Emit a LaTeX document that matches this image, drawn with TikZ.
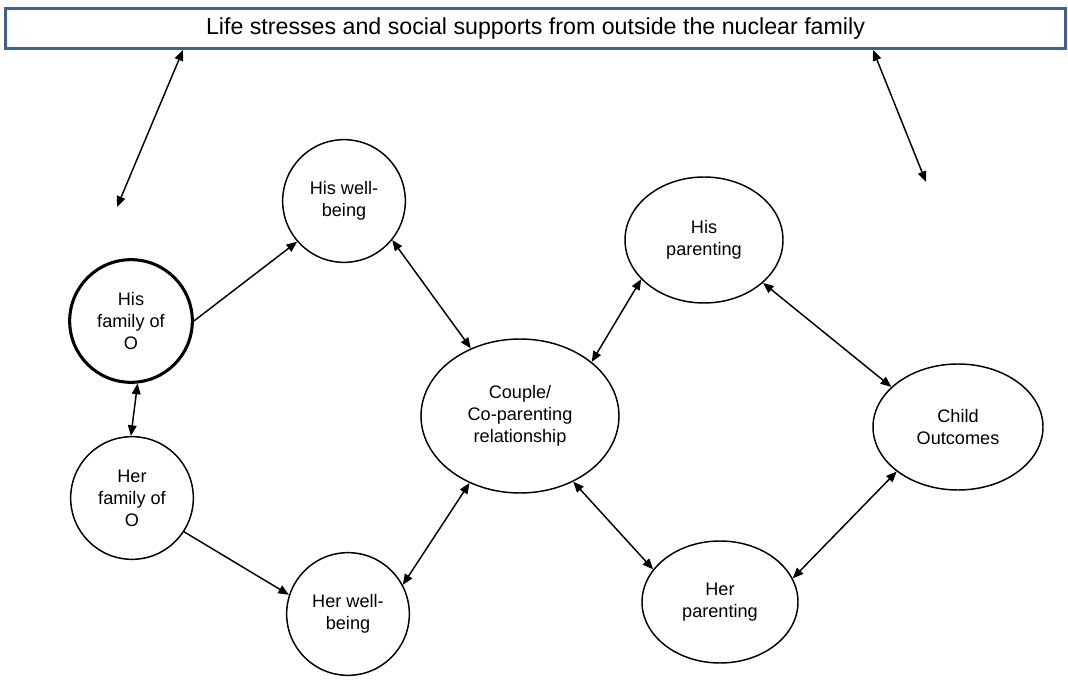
\documentclass[tikz,border=0pt]{standalone}
\usepackage{fontspec}
\setmainfont{Liberation Sans}
\usetikzlibrary{arrows.meta,shapes.geometric}
\definecolor{boxblue}{RGB}{64,96,144}
\begin{document}
\begin{tikzpicture}[x=0.75pt,y=-0.75pt,
    every node/.style={font=\fontsize{13.6pt}{16.5pt}\selectfont, align=center, inner sep=0pt},
    circ/.style={circle, draw, line width=1.1pt, minimum size=92pt},
    ell/.style={ellipse, draw, line width=1.1pt},
    link/.style={line width=1.1pt, {Triangle[length=8pt,width=6.5pt]}-{Triangle[length=8pt,width=6.5pt]}},
    push/.style={line width=1.1pt, -{Triangle[length=8pt,width=6.5pt]}}]
\useasboundingbox (0,0) rectangle (1068,698);

%\draw[help lines] (0,0) grid[step=100] (1068,698);

\node[draw=boxblue, line width=2.2pt, fill=white, minimum width=795pt, minimum height=30pt,
      font=\fontsize{17.4pt}{20pt}\selectfont] (S) at (535.5,28.5)
    {Life stresses and social supports from outside the nuclear family};

\node[circ, line width=2.3pt] (F1) at (131,321) {His\\family of\\O};
\node[circ] (F2) at (132,498) {Her\\family of\\O};
\node[circ] (W1) at (344,201) {His well-\\being};
\node[circ] (W2) at (348,614) {Her well-\\being};
\node[ell, minimum width=148.5pt, minimum height=115.5pt] (C) at (520,416) {Couple/\\Co-parenting\\relationship};
\node[ell, minimum width=118.5pt, minimum height=94.5pt] (P1) at (704,240) {His\\parenting};
\node[ell, minimum width=117pt, minimum height=91.5pt] (P2) at (720,602) {Her\\parenting};
\node[ell, minimum width=127.5pt, minimum height=94.5pt] (K) at (958,427) {Child\\Outcomes};

\coordinate (L1) at (117,207);
\coordinate (L2) at (926,182);

\path
    (S.south -| 183,0) edge[link] (L1)
    (S.south -| 873,0) edge[link] (L2)
    (F1.0) edge[push] (W1.221)
    (F1.276) edge[link] (F2.91)
    (F2.327) edge[push] (W2.162)
    (W1.321) edge[link] (C.126)
    (C.233) edge[link] (W2.28)
    (C.37) edge[link] (P1.212)
    (C.309) edge[link] (P2.154)
    (P1.324) edge[link] (K.149)
    (K.216) edge[link] (P2.18);
\end{tikzpicture}
\end{document}
